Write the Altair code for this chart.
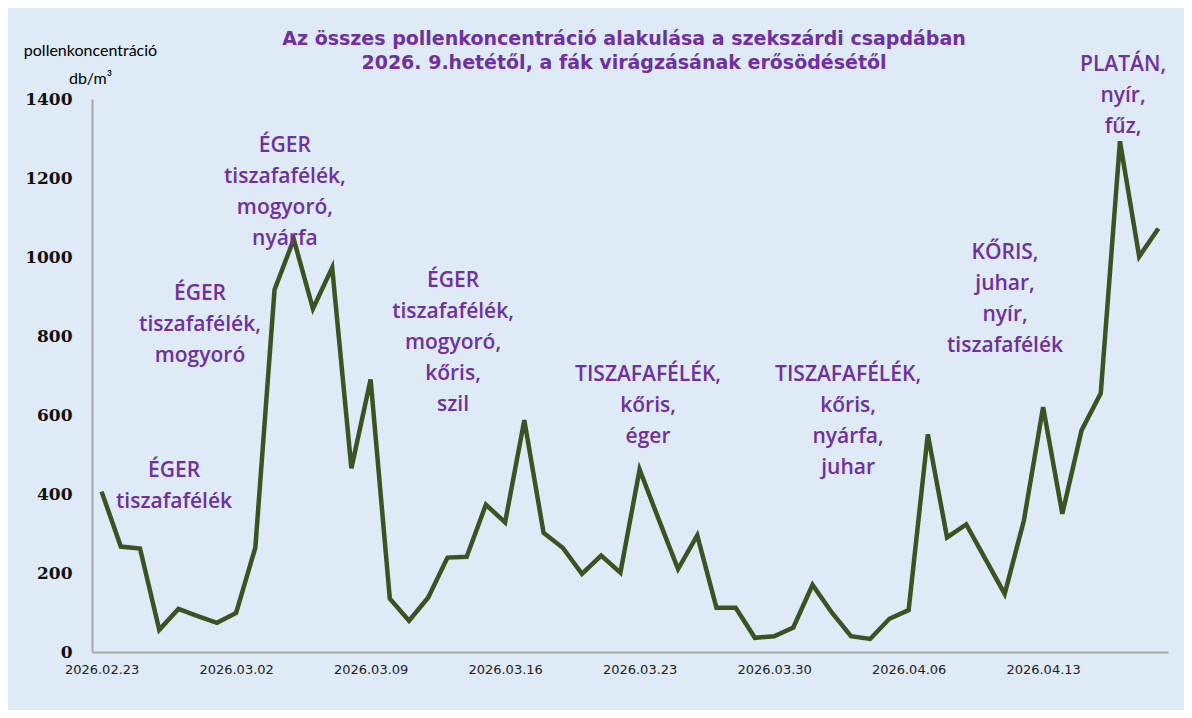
import altair as alt
import pandas as pd

# ---- data ----
start = pd.Timestamp("2026-02-23")
values = [406, 267, 262, 56, 109, 91, 74, 99, 264, 917,
          1045, 869, 973, 465, 690, 135, 79, 138, 239, 241,
          373, 328, 587, 302, 264, 198, 244, 201, 462, 335,
          210, 295, 112, 112, 36, 40, 62, 170, 100, 40,
          33, 84, 106, 551, 290, 323, 235, 147, 333, 620,
          350, 561, 655, 1293, 1001, 1072]
dates = [(start + pd.Timedelta(days=i)).strftime("%Y-%m-%dT%H:%M:%S") for i in range(len(values))]
tick_dates = dates[::7]
y_ticks = [0, 200, 400, 600, 800, 1000, 1200, 1400]

title_lines = ["Az összes pollenkoncentráció alakulása a szekszárdi csapdában",
               "2026. 9.hetétől, a fák virágzásának erősödésétől"]
y_title = ["pollenkoncentráció", "db/m³"]

ann_lines = [
    ["ÉGER", "tiszafafélék"],
    ["ÉGER", "tiszafafélék,", "mogyoró"],
    ["ÉGER", "tiszafafélék,", "mogyoró,", "nyárfa"],
    ["ÉGER", "tiszafafélék,", "mogyoró,", "kőris,", "szil"],
    ["TISZAFAFÉLÉK,", "kőris,", "éger"],
    ["TISZAFAFÉLÉK,", "kőris,", "nyárfa,", "juhar"],
    ["KŐRIS,", "juhar,", "nyír,", "tiszafafélék"],
    ["PLATÁN,", "nyír,", "fűz,"],
]
ann_day = [3.77, 5.12, 9.54, 18.29, 28.44, 38.85, 47.02, 53.16]
ann_value = [443, 891, 1266, 924, 686, 686, 995, 1471]

df_line = pd.DataFrame({"date": dates, "value": values})
df_ann = pd.DataFrame({
    "date": [(start + pd.Timedelta(days=d)).strftime("%Y-%m-%dT%H:%M:%S") for d in ann_day],
    "value": ann_value,
    "lines": ann_lines,
})


def dt(s):
    t = pd.Timestamp(s)
    return alt.DateTime(year=t.year, month=t.month, date=t.day, hours=t.hour)


x_dom = [dt(start - pd.Timedelta(hours=12)), dt(start + pd.Timedelta(days=len(values) - 1, hours=12))]

x_enc = alt.X(
    "date:T",
    title="",
    scale=alt.Scale(domain=x_dom),
    axis=alt.Axis(
        values=[dt(d) for d in tick_dates],
        format="%Y.%m.%d",
        labelFont="DejaVu Sans",
        labelFontSize=13,
        labelColor="#222222",
        labelPadding=11,
        labelFlush=False,
        labelOverlap=False,
        ticks=False,
        grid=False,
        domainColor="#A6A6A6",
        domainWidth=2,
    ),
)
y_enc = alt.Y(
    "value:Q",
    title=y_title,
    scale=alt.Scale(domain=[0, 1400]),
    axis=alt.Axis(
        values=y_ticks,
        format="d",
        labelFont="DejaVu Serif",
        labelFontWeight="bold",
        labelFontSize=17,
        labelColor="#111111",
        labelPadding=20,
        ticks=False,
        grid=False,
        domainColor="#A6A6A6",
        domainWidth=2,
        titleAngle=0,
        titleAlign="center",
        titleBaseline="alphabetic",
        titleX=-2,
        titleY=-44,
        titleFont="Lato",
        titleFontSize=16,
        titleFontWeight="normal",
        titleColor="#000000",
        titleLineHeight=28,
    ),
)

line = alt.Chart(df_line).mark_line(color="#3B5323", strokeWidth=4.5).encode(
    x=x_enc, y=y_enc
)

text = alt.Chart(df_ann).mark_text(
    font="Open Sans", fontSize=21, fontWeight=600, color="#7030A0",
    align="center", baseline="alphabetic", lineHeight=31
).encode(x=x_enc, y=y_enc, text="lines")

chart = alt.layer(line, text).properties(
    width=1076,
    height=553,
    title=alt.Title(
        title_lines,
        font="DejaVu Sans",
        fontSize=19,
        fontWeight="bold",
        color="#7030A0",
        lineHeight=24,
        anchor="middle",
        offset=30,
        dx=-6,
        dy=61,
    ),
    padding={"left": 84, "top": 91, "right": 16, "bottom": 58},
    autosize=alt.AutoSizeParams(type="none"),
    background="#DEEAF6",
).configure_view(strokeWidth=0)

chart.save("out.html", embed_options={"renderer": "svg", "actions": False})
